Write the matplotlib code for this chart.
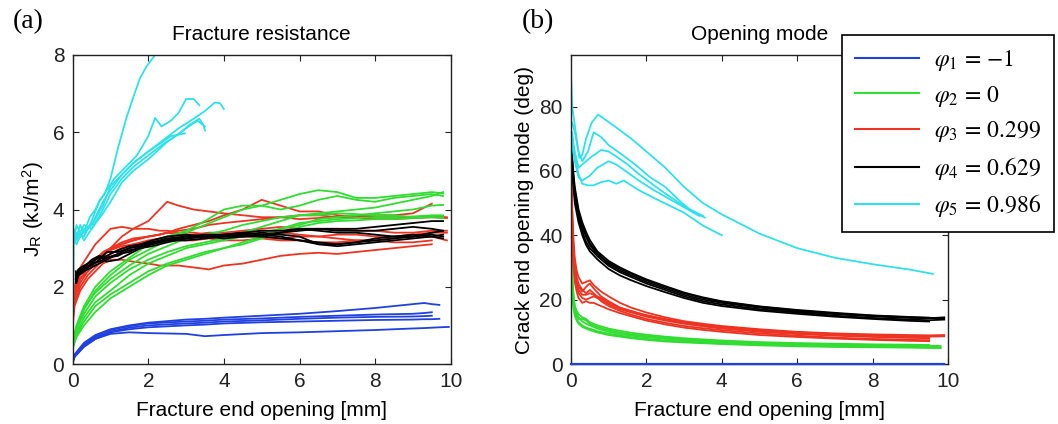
import matplotlib
matplotlib.use("Agg")
import matplotlib.pyplot as plt
from matplotlib.lines import Line2D

plt.rcParams['font.family'] = ['Liberation Sans', 'DejaVu Sans']
plt.rcParams['mathtext.fontset'] = 'stix'

# ---------------- colours / labels ----------------
group_colors = ['#2040e0', '#30dd30', '#ee3322', '#000000', '#30e0ea']
legend_labels = [r'$\varphi_1\,=\,{-1}$', r'$\varphi_2\,=\,0$', r'$\varphi_3\,=\,0.299$',
                 r'$\varphi_4\,=\,0.629$', r'$\varphi_5\,=\,0.986$']
xticks = [0, 2, 4, 6, 8, 10]
yticks_a = [0, 2, 4, 6, 8]
yticks_b = [0, 20, 40, 60, 80]

# ---------------- panel (a): fracture resistance J_R ----------------
a_blue_x = [0, 0.05, 0.3, 0.6, 1.0, 1.5, 2.0, 3.0, 3.5, 4.0, 5.0, 6.0, 7.0, 8.0, 9.0, 9.3, 9.5, 9.7, 9.95]
a_blue_y = [
    [0.05, 0.25, 0.55, 0.75, 0.9, 1.0, 1.07, 1.15, 1.17, 1.2, 1.25, 1.3, 1.37, 1.45, 1.55, 1.58, 1.55, 1.53],
    [0.05, 0.2, 0.5, 0.72, 0.88, 0.98, 1.05, 1.1, 1.12, 1.15, 1.18, 1.22, 1.25, 1.28, 1.3, 1.32, 1.34],
    [0.05, 0.22, 0.48, 0.68, 0.84, 0.94, 1.0, 1.05, 1.07, 1.1, 1.13, 1.17, 1.2, 1.22, 1.23, 1.24, 1.25],
    [0.05, 0.18, 0.45, 0.65, 0.82, 0.9, 0.95, 1.0, 1.02, 1.05, 1.08, 1.1, 1.12, 1.14, 1.15, 1.16, 1.16, 1.17],
    [0.05, 0.2, 0.45, 0.65, 0.78, 0.82, 0.8, 0.78, 0.72, 0.75, 0.8, 0.82, 0.85, 0.88, 0.92, 0.93, 0.94, 0.95, 0.96],
]

a_green_x = [0, 0.1, 0.3, 0.6, 1.0, 1.5, 2.0, 2.5, 3.0, 3.5, 4.0, 4.5, 5.0, 5.5, 6.0, 6.5, 7.0, 7.5, 8.0, 8.5, 9.0, 9.5, 9.8]
a_green_y = [
    [0.5, 0.9, 1.4, 1.9, 2.3, 2.7, 2.95, 3.2, 3.4, 3.6, 3.8, 4.0, 4.1, 4.25, 4.4, 4.5, 4.45, 4.3, 4.3, 4.35, 4.4, 4.45, 4.42],
    [0.6, 1.0, 1.5, 2.0, 2.4, 2.75, 3.1, 3.3, 3.45, 3.7, 4.0, 4.1, 4.1, 4.0, 4.1, 4.25, 4.35, 4.25, 4.2, 4.3, 4.35, 4.4, 4.35],
    [0.5, 0.8, 1.2, 1.6, 1.9, 2.3, 2.6, 2.8, 3.0, 3.1, 3.2, 3.3, 3.4, 3.5, 3.6, 3.75, 3.8, 3.85, 3.9, 3.95, 4.0, 4.1, 4.12],
    [0.45, 0.75, 1.1, 1.5, 1.8, 2.1, 2.4, 2.6, 2.75, 2.9, 3.0, 3.15, 3.3, 3.5, 3.65, 3.7, 3.75, 3.78, 3.8, 3.8, 3.82, 3.85, 3.85],
    [0.5, 0.9, 1.3, 1.75, 2.1, 2.45, 2.7, 2.9, 3.05, 3.15, 3.25, 3.4, 3.55, 3.7, 3.85, 3.9, 3.95, 4.0, 4.05, 4.15, 4.25, 4.35, 4.45],
    [0.55, 0.95, 1.45, 1.85, 2.2, 2.55, 2.85, 3.05, 3.25, 3.35, 3.45, 3.6, 3.7, 3.8, 3.85, 3.85, 3.9, 3.88, 3.85, 3.85, 3.8, 3.8, 3.78],
    [0.4, 0.7, 1.0, 1.35, 1.7, 2.0, 2.3, 2.55, 2.7, 2.85, 3.0, 3.1, 3.25, 3.4, 3.55, 3.65, 3.7, 3.72, 3.75, 3.75, 3.78, 3.8, 3.8],
]

a_red_x = [0, 0.05, 0.2, 0.4, 0.6, 0.8, 1.0, 1.3, 1.6, 2.0, 2.3, 2.5, 2.8, 3.2, 3.6, 4.0, 4.5, 5.0, 5.5, 6.0, 6.5, 7.0, 7.5, 8.0, 8.5, 9.0, 9.5, 9.9]
a_red_y = [
    [1.2, 1.8, 2.2, 2.5, 2.6, 2.8, 3.0, 3.3, 3.5, 3.7, 4.0, 4.2, 4.1, 4.0, 3.95, 3.9, 3.85, 3.8, 3.8, 3.75, 3.78, 3.8, 3.85, 3.8, 3.8, 3.8, 3.82, 3.8],
    [1.3, 1.8, 2.2, 2.4, 2.6, 2.8, 3.0, 3.1, 3.2, 3.3, 3.35, 3.4, 3.5, 3.6, 3.7, 3.85, 4.0, 4.25, 4.1, 3.95, 3.95, 3.85, 3.8, 3.75, 3.75, 3.78, 3.8, 3.78],
    [1.4, 2.0, 2.5, 2.8, 3.1, 3.3, 3.5, 3.55, 3.5, 3.5, 3.45, 3.45, 3.4, 3.4, 3.35, 3.3, 3.3, 3.3, 3.25, 3.3, 3.3, 3.35, 3.35, 3.3, 3.3, 3.35, 3.4, 3.4],
    [1.0, 1.5, 1.9, 2.2, 2.4, 2.6, 2.7, 2.7, 2.65, 2.6, 2.55, 2.55, 2.55, 2.5, 2.45, 2.55, 2.6, 2.7, 2.8, 2.85, 2.88, 2.85, 2.9, 2.95, 3.0, 3.05, 3.1],
    [1.2, 1.7, 2.1, 2.4, 2.6, 2.8, 2.95, 3.1, 3.2, 3.3, 3.35, 3.4, 3.45, 3.5, 3.6, 3.65, 3.7, 3.75, 3.8, 3.85, 3.85, 3.8, 3.8, 3.85, 3.85, 3.9, 4.15],
    [1.5, 2.0, 2.4, 2.6, 2.75, 2.85, 2.95, 3.05, 3.1, 3.15, 3.2, 3.2, 3.2, 3.2, 3.25, 3.2, 3.2, 3.25, 3.2, 3.2, 3.15, 3.15, 3.2, 3.2, 3.25, 3.3, 3.3, 3.2],
    [1.3, 1.9, 2.3, 2.55, 2.7, 2.9, 3.0, 3.15, 3.25, 3.3, 3.35, 3.4, 3.35, 3.3, 3.3, 3.35, 3.4, 3.45, 3.4, 3.35, 3.3, 3.25, 3.2, 3.2, 3.15, 3.15, 3.2],
    [1.2, 1.6, 2.0, 2.3, 2.5, 2.7, 2.85, 3.0, 3.1, 3.2, 3.25, 3.3, 3.3, 3.35, 3.4, 3.4, 3.45, 3.5, 3.55, 3.5, 3.5, 3.5, 3.45, 3.45, 3.4, 3.4, 3.45, 3.45],
]

a_black_x = [0.08, 0.1, 0.15, 0.3, 0.5, 0.7, 0.9, 1.2, 1.5, 1.8, 2.1, 2.5, 3.0, 3.5, 4.0, 4.5, 5.0, 5.5, 6.0, 6.5, 7.0, 7.5, 8.0, 8.5, 9.0, 9.5, 9.8]
a_black_y = [
    [2.1, 2.2, 2.35, 2.45, 2.6, 2.8, 2.75, 2.8, 2.95, 3.0, 3.1, 3.2, 3.3, 3.35, 3.35, 3.4, 3.35, 3.4, 3.45, 3.5, 3.5, 3.5, 3.55, 3.6, 3.65, 3.7, 3.7],
    [2.3, 2.1, 2.3, 2.4, 2.5, 2.6, 2.7, 2.85, 2.9, 3.05, 3.15, 3.25, 3.3, 3.3, 3.3, 3.35, 3.4, 3.35, 3.3, 3.1, 3.05, 3.1, 3.15, 3.2, 3.25, 3.3, 3.35],
    [2.2, 2.3, 2.4, 2.5, 2.7, 2.8, 2.65, 2.7, 2.85, 3.0, 3.05, 3.15, 3.25, 3.3, 3.35, 3.3, 3.3, 3.4, 3.5, 3.45, 3.4, 3.4, 3.35, 3.3, 3.3, 3.4, 3.45],
    [2.4, 2.25, 2.3, 2.5, 2.55, 2.7, 2.9, 2.9, 3.0, 3.1, 3.2, 3.3, 3.35, 3.3, 3.25, 3.3, 3.35, 3.3, 3.2, 3.15, 3.1, 3.15, 3.2, 3.25, 3.3, 3.35, 3.3],
    [2.2, 2.35, 2.45, 2.55, 2.65, 2.75, 2.8, 2.95, 3.05, 3.1, 3.15, 3.2, 3.25, 3.3, 3.35, 3.4, 3.45, 3.45, 3.5, 3.5, 3.45, 3.45, 3.45, 3.5, 3.55, 3.5, 3.45],
    [2.15, 2.2, 2.3, 2.4, 2.6, 2.65, 2.75, 2.85, 3.0, 3.05, 3.1, 3.2, 3.2, 3.25, 3.3, 3.35, 3.3, 3.25, 3.2, 3.1, 3.1, 3.15, 3.25, 3.3, 3.35, 3.3, 3.25],
]

a_cyan_x = [
    [0, 0.03, 0.1, 0.2, 0.3, 0.45, 0.6, 0.72, 0.85, 1.0, 1.2, 1.43, 1.6, 1.78, 1.95, 2.18],
    [0, 0.1, 0.3, 0.5, 0.7, 0.9, 1.1, 1.4, 1.7, 2.0, 2.18, 2.35, 2.6, 2.8, 3.0, 3.2, 3.35],
    [0, 0.1, 0.3, 0.5, 0.8, 1.0, 1.3, 1.6, 2.0, 2.4, 2.8, 3.2, 3.5, 3.76, 3.9, 4.0],
    [0, 0.1, 0.3, 0.5, 0.8, 1.0, 1.3, 1.6, 2.0, 2.4, 2.8, 3.1, 3.35, 3.45, 3.5],
    [0, 0.1, 0.3, 0.5, 0.8, 1.0, 1.3, 1.6, 2.0, 2.3, 2.6, 2.97],
    [0, 0.1, 0.3, 0.5, 0.8, 1.0, 1.3, 1.6, 2.0, 2.5, 3.0, 3.3, 3.5],
]
a_cyan_y = [
    [0, 3.5, 3.3, 3.6, 3.4, 3.8, 4.0, 4.25, 4.4, 4.8, 5.6, 6.4, 6.9, 7.4, 7.7, 8.0],
    [3.2, 3.4, 3.3, 3.7, 4.2, 4.5, 4.8, 5.1, 5.4, 5.9, 6.37, 6.15, 6.3, 6.5, 6.86, 6.86, 6.7],
    [3.1, 3.3, 3.4, 3.6, 4.2, 4.5, 4.9, 5.2, 5.5, 5.8, 6.1, 6.35, 6.55, 6.77, 6.75, 6.6],
    [3.0, 3.6, 3.2, 3.5, 4.0, 4.4, 4.8, 5.1, 5.4, 5.7, 5.95, 6.2, 6.35, 6.2, 6.05],
    [3.3, 3.1, 3.5, 3.6, 4.1, 4.6, 4.9, 5.2, 5.5, 5.7, 5.9, 5.97],
    [3.4, 3.2, 3.6, 3.5, 3.9, 4.2, 4.7, 5.0, 5.3, 5.75, 6.1, 6.3, 6.15],
]

# ---------------- panel (b): crack end opening mode ----------------
b_blue_x = [0, 9.9]
b_blue_y = [0, 0]

b_green_x = [0.005, 0.02, 0.04, 0.07, 0.1, 0.15, 0.2, 0.3, 0.4, 0.5, 0.7, 1.0, 1.3, 1.6, 2.0, 2.5, 3.0, 4.0, 5.0, 6.0, 7.0, 8.0, 9.0, 9.5, 9.8]
b_green_y = [
    [42, 33, 26, 21, 18, 16, 14.5, 13.2, 12.5, 12, 11, 10, 9.3, 8.8, 8.3, 7.8, 7.4, 6.8, 6.4, 6.1, 5.9, 5.7, 5.5, 5.4, 5.3],
    [38, 30, 24, 19, 17, 15, 14, 14, 13.5, 12.5, 11.5, 10.5, 9.8, 9.2, 8.7, 8.1, 7.7, 7.0, 6.6, 6.3, 6.1, 5.9, 5.8, 5.7, 5.6],
    [35, 27, 22, 18, 16, 14, 13, 12, 11.3, 11, 10.2, 9.4, 8.8, 8.3, 7.8, 7.3, 7.0, 6.4, 6.0, 5.7, 5.5, 5.3, 5.2, 5.1, 5.0],
    [40, 32, 25, 20.5, 18, 16.5, 15.5, 14.5, 14, 13, 12, 11, 10.3, 9.7, 9.1, 8.5, 8.0, 7.3, 6.8, 6.5, 6.3, 6.1, 6.0, 5.9],
    [33, 25, 20, 17, 15, 13.5, 12.5, 11.5, 11, 10.5, 9.8, 9.0, 8.5, 8.0, 7.5, 7.0, 6.7, 6.2, 5.8, 5.5, 5.3, 5.2, 5.1, 5.0, 5.0],
]

b_red_x = [0.01, 0.03, 0.06, 0.1, 0.15, 0.2, 0.3, 0.4, 0.5, 0.6, 0.8, 1.0, 1.3, 1.6, 2.0, 2.5, 3.0, 3.5, 4.0, 5.0, 6.0, 7.0, 8.0, 9.0, 9.5, 9.9]
b_red_y = [
    [62, 50, 40, 33, 29, 27, 25, 25.5, 26, 24.5, 22.5, 21, 19, 17.5, 16, 14.5, 13.3, 12.5, 11.8, 10.8, 10, 9.5, 9.2, 9.0, 8.9, 9.0],
    [58, 45, 36, 30, 26, 24, 22.5, 24, 25, 23.5, 21, 19.5, 17.5, 16.5, 15, 13.8, 12.8, 12, 11.4, 10.4, 9.7, 9.2, 8.8, 8.5, 8.4],
    [55, 42, 33, 27, 24, 22, 20.5, 20, 20.5, 21, 20, 18.5, 17, 16, 14.7, 13.5, 12.5, 11.7, 11, 10, 9.3, 8.8, 8.4, 8.1, 8.0],
    [60, 47, 37, 31, 27, 25, 23, 22, 23, 22, 19.5, 18, 16.5, 15.3, 14, 12.8, 11.8, 11.1, 10.5, 9.5, 8.8, 8.2, 7.8, 7.5, 7.4],
    [52, 40, 31, 25.5, 22.5, 20.5, 19, 19.5, 19, 19, 18, 17, 15.8, 14.8, 13.5, 12.3, 11.3, 10.6, 10, 9, 8.4, 7.9, 7.5, 7.2, 7.1],
    [57, 44, 35, 28.5, 25, 23, 21.5, 21.5, 22, 21.5, 20.5, 19, 17.5, 16.3, 15.2, 14, 12.9, 12.2, 11.5, 10.5, 9.8, 9.3, 8.9, 8.6, 8.5, 8.6],
]

b_black_x = [0.02, 0.05, 0.1, 0.2, 0.3, 0.4, 0.5, 0.7, 1.0, 1.3, 1.6, 2.0, 2.5, 3.0, 3.5, 4.0, 5.0, 6.0, 7.0, 8.0, 9.0, 9.5, 9.9]
b_black_y = [
    [66, 60, 54, 47, 43, 40, 37.5, 34.5, 31, 29, 27.5, 25.5, 23.5, 21.5, 20, 19, 17.5, 16.3, 15.5, 14.8, 14.3, 14.2, 14.5],
    [64, 58, 52, 45, 41, 38, 36, 33.5, 30.5, 28.5, 27, 25, 23, 21, 19.5, 18.5, 17, 16, 15, 14.3, 13.8, 13.6, 13.8],
    [65, 59, 53, 46, 42, 39.5, 37, 34, 31.5, 29.5, 28, 26, 24, 22, 20.5, 19.3, 17.8, 16.6, 15.7, 15, 14.5, 14.3, 14.2],
    [63, 57, 50, 44, 40, 37, 35, 32.5, 29.5, 27.5, 26, 24.2, 22.3, 20.5, 19, 18, 16.6, 15.6, 14.7, 14, 13.4, 13.2],
    [66, 61, 55, 48, 44, 41, 38.5, 35, 32, 30, 28.3, 26.3, 24.2, 22.2, 20.7, 19.5, 17.9, 16.8, 15.9, 15.1, 14.6, 14.4],
]

b_cyan_x = [
    [0, 0, 0.03, 0.08, 0.15, 0.22, 0.3, 0.4, 0.55, 0.72, 0.9, 1.2, 1.6, 2.0, 2.5, 3.0, 3.5, 4.0, 5.0, 6.0, 7.0, 8.0, 9.0, 9.6],
    [0.03, 0.1, 0.2, 0.3, 0.45, 0.6, 0.8, 1.0, 1.3, 1.7, 2.1, 2.5, 2.9, 3.2, 3.55],
    [0.03, 0.1, 0.2, 0.3, 0.5, 0.8, 1.0, 1.2, 1.5, 1.8, 2.2, 2.5, 3.0, 3.5],
    [0.03, 0.1, 0.2, 0.3, 0.5, 0.7, 1.0, 1.2, 1.5, 1.8, 2.2, 2.8, 3.4],
    [0.03, 0.1, 0.2, 0.3, 0.45, 0.6, 0.8, 1.0, 1.2, 1.4, 1.8, 2.3, 3.0, 3.5, 4.0],
]
b_cyan_y = [
    [0, 90, 80, 76, 70, 64, 65, 70, 75, 77.5, 76, 73.5, 70, 66, 61, 55, 50, 46.5, 40.5, 36, 33, 31, 29.3, 28],
    [75, 72, 66, 63, 66, 72, 70.5, 68, 65.5, 62, 58, 55, 50.5, 47.5, 45.5],
    [70, 66, 61, 62, 64, 66.5, 66, 64.5, 62, 59, 55.5, 53, 49, 46],
    [68, 63, 58, 57, 58.5, 61, 63, 62, 59.5, 57, 54, 50, 46],
    [72, 65, 59, 56, 55.5, 55.5, 56.5, 57, 56, 57, 54, 51, 47, 43, 40],
]


def draw_group(ax, xs, ys, color, lw=1.3):
    for i, y in enumerate(ys):
        x = xs[i] if isinstance(xs[0], list) else xs
        ax.plot(x[:len(y)], y, color=color, lw=lw, solid_joinstyle='round')


fig = plt.figure(figsize=(10.58, 4.24), dpi=100)
ax1 = fig.add_axes([72.7 / 1058, 60 / 424, 378 / 1058, 309 / 424])
ax2 = fig.add_axes([571 / 1058, 60 / 424, 377 / 1058, 309 / 424])

draw_group(ax1, a_blue_x, a_blue_y, group_colors[0])
draw_group(ax1, a_red_x, a_red_y, group_colors[2])
draw_group(ax1, a_green_x, a_green_y, group_colors[1])
draw_group(ax1, a_black_x, a_black_y, group_colors[3])
draw_group(ax1, a_cyan_x, a_cyan_y, group_colors[4])

draw_group(ax2, b_green_x, b_green_y, group_colors[1])
draw_group(ax2, b_red_x, b_red_y, group_colors[2])
draw_group(ax2, b_black_x, b_black_y, group_colors[3])
draw_group(ax2, b_cyan_x, b_cyan_y, group_colors[4])
ax2.plot(b_blue_x, b_blue_y, color=group_colors[0], lw=1.6, clip_on=False, zorder=3)

fs = 15
for ax, yt, ylim in ((ax1, yticks_a, (0, 8)), (ax2, yticks_b, (0, 96))):
    ax.set_xlim(0, 10)
    ax.set_ylim(*ylim)
    ax.set_xticks(xticks)
    ax.set_yticks(yt)
    ax.tick_params(direction='in', top=True, right=True, length=4, width=0.8,
                   labelsize=fs, pad=6, colors='#222222')
    for s in ax.spines.values():
        s.set_linewidth(1.0)
        s.set_color('#222222')
    ax.set_xlabel('Fracture end opening [mm]', fontsize=fs, labelpad=7)

ax1.set_ylabel(r'J$_\mathregular{R}$ (kJ/m$^\mathregular{2}$)', fontsize=fs, labelpad=5)
ax2.set_ylabel('Crack end opening mode (deg)', fontsize=fs, labelpad=4)
ax1.set_title('Fracture resistance', fontsize=fs, pad=11)
ax2.set_title('Opening mode', fontsize=fs, pad=11)

fig.text(13 / 1058, 1 - 22 / 424, '(a)', fontsize=20, family='Liberation Serif', va='center', ha='left')
fig.text(522 / 1058, 1 - 22 / 424, '(b)', fontsize=20, family='Liberation Serif', va='center', ha='left')

handles = [Line2D([], [], color=c, lw=1.5) for c in group_colors]
leg = fig.legend(handles, legend_labels, loc='upper left',
                 bbox_to_anchor=(842 / 1058, 1 - 35 / 424), fontsize=17,
                 frameon=True, fancybox=False, edgecolor='black', framealpha=1,
                 handlelength=2.7, handletextpad=0.65, borderpad=0.55,
                 labelspacing=0.45, borderaxespad=0)
leg.get_frame().set_linewidth(1.2)

fig.savefig('out.png', dpi=100)
